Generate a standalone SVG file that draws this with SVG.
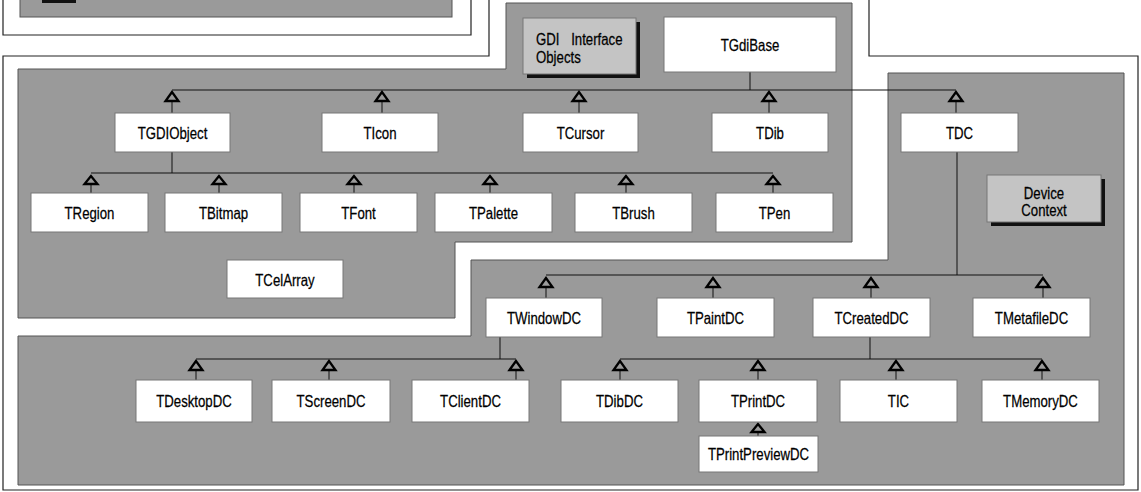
<svg xmlns="http://www.w3.org/2000/svg" width="1141" height="492" viewBox="0 0 1141 492">
<style>
.region{fill:#9a9a9a;stroke:#555;stroke-width:1}
.outline{fill:none;stroke:#222;stroke-width:1.2}
.box{fill:#fff;stroke:#777;stroke-width:1}
.label{fill:#c4c4c4;stroke:#777;stroke-width:1}
.shadow{fill:#111}
.t{font-family:"Liberation Sans",Arial,sans-serif;font-size:16.5px;fill:#000;stroke:#000;stroke-width:0.25;text-anchor:middle}
.tl{text-anchor:start}
.con line{stroke:#111;stroke-width:1;fill:none}
.tri{fill:#9a9a9a;stroke:#000;stroke-width:2.3;stroke-linejoin:miter}
</style>
<rect width="1141" height="492" fill="#fff"/>
<g id="background">
<polyline class="outline" points="3,0 3,35 471,35 471,0"/>
<polyline class="outline" points="489,0 489,56 3,56 3,490 1138,490 1138,56 869,56 869,0"/>
<rect class="region" x="20" y="-2" width="432" height="19"/>
<rect class="shadow" x="42" y="0" width="34" height="3"/>
<polygon class="region" points="506,3 852,3 852,242 455,242 455,318 18,318 18,69 506,69"/>
<polygon class="region" points="888,73 1124,73 1124,485 18,485 18,336 471,336 471,260 888,260"/>
</g>
<g id="connectors" class="con">
<line x1="172" y1="90" x2="956" y2="90"/>
<line x1="750" y1="72" x2="750" y2="90"/>
<line x1="172" y1="101" x2="172" y2="113"/>
<line x1="382" y1="101" x2="382" y2="113"/>
<line x1="579" y1="101" x2="579" y2="113"/>
<line x1="769" y1="101" x2="769" y2="113"/>
<line x1="956" y1="101" x2="956" y2="113"/>
<line x1="172" y1="152" x2="172" y2="173"/>
<line x1="91" y1="173" x2="773" y2="173"/>
<line x1="91" y1="184" x2="91" y2="193"/>
<line x1="219" y1="184" x2="219" y2="193"/>
<line x1="354" y1="184" x2="354" y2="193"/>
<line x1="490" y1="184" x2="490" y2="193"/>
<line x1="626" y1="184" x2="626" y2="193"/>
<line x1="773" y1="184" x2="773" y2="193"/>
<line x1="957" y1="152" x2="957" y2="275"/>
<line x1="546" y1="275" x2="1043" y2="275"/>
<line x1="546" y1="287" x2="546" y2="298"/>
<line x1="713" y1="287" x2="713" y2="298"/>
<line x1="871" y1="287" x2="871" y2="298"/>
<line x1="1043" y1="287" x2="1043" y2="298"/>
<line x1="500" y1="337" x2="500" y2="359"/>
<line x1="196" y1="359" x2="516" y2="359"/>
<line x1="870" y1="337" x2="870" y2="359"/>
<line x1="620" y1="359" x2="1042" y2="359"/>
<line x1="196" y1="370" x2="196" y2="380"/>
<line x1="329" y1="370" x2="329" y2="380"/>
<line x1="516" y1="370" x2="516" y2="380"/>
<line x1="620" y1="370" x2="620" y2="380"/>
<line x1="758" y1="370" x2="758" y2="380"/>
<line x1="896" y1="370" x2="896" y2="380"/>
<line x1="1042" y1="370" x2="1042" y2="380"/>
<line x1="758" y1="432" x2="758" y2="436"/>
<polygon class="tri" points="172,92 165.5,101 178.5,101"/>
<polygon class="tri" points="382,92 375.5,101 388.5,101"/>
<polygon class="tri" points="579,92 572.5,101 585.5,101"/>
<polygon class="tri" points="769,92 762.5,101 775.5,101"/>
<polygon class="tri" points="956,92 949.5,101 962.5,101"/>
<polygon class="tri" points="91,176 84.5,184 97.5,184"/>
<polygon class="tri" points="219,176 212.5,184 225.5,184"/>
<polygon class="tri" points="354,176 347.5,184 360.5,184"/>
<polygon class="tri" points="490,176 483.5,184 496.5,184"/>
<polygon class="tri" points="626,176 619.5,184 632.5,184"/>
<polygon class="tri" points="773,176 766.5,184 779.5,184"/>
<polygon class="tri" points="546,278 539.5,287 552.5,287"/>
<polygon class="tri" points="713,278 706.5,287 719.5,287"/>
<polygon class="tri" points="871,278 864.5,287 877.5,287"/>
<polygon class="tri" points="1043,278 1036.5,287 1049.5,287"/>
<polygon class="tri" points="196,361 189.5,370 202.5,370"/>
<polygon class="tri" points="329,361 322.5,370 335.5,370"/>
<polygon class="tri" points="516,361 509.5,370 522.5,370"/>
<polygon class="tri" points="620,361 613.5,370 626.5,370"/>
<polygon class="tri" points="758,361 751.5,370 764.5,370"/>
<polygon class="tri" points="896,361 889.5,370 902.5,370"/>
<polygon class="tri" points="1042,361 1035.5,370 1048.5,370"/>
<polygon class="tri" points="758,424 751.5,432 764.5,432"/>
</g>
<g id="gdi-interface-objects">
<rect class="shadow" x="527" y="22" width="113" height="56"/>
<rect class="label" x="523" y="18" width="113" height="56"/>
<text class="t tl" transform="translate(536,45) scale(0.8,1)" style="word-spacing:10px">GDI Interface</text>
<text class="t tl" transform="translate(536,63) scale(0.8,1)">Objects</text>
</g>
<g id="device-context">
<rect class="shadow" x="991" y="179" width="114" height="47"/>
<rect class="label" x="987" y="175" width="114" height="47"/>
<text class="t" transform="translate(1044,199) scale(0.8,1)">Device</text>
<text class="t" transform="translate(1044,216) scale(0.8,1)">Context</text>
</g>
<g id="tgdibase"><rect class="box" x="664" y="17" width="172" height="55"/><text class="t" transform="translate(750,51) scale(0.8,1)">TGdiBase</text></g>
<g id="tgdiobject"><rect class="box" x="115" y="113" width="115" height="39"/><text class="t" transform="translate(172.5,139) scale(0.8,1)">TGDIObject</text></g>
<g id="ticon"><rect class="box" x="322" y="113" width="116" height="39"/><text class="t" transform="translate(380,139) scale(0.8,1)">TIcon</text></g>
<g id="tcursor"><rect class="box" x="523" y="113" width="115" height="39"/><text class="t" transform="translate(580.5,139) scale(0.8,1)">TCursor</text></g>
<g id="tdib"><rect class="box" x="712" y="113" width="116" height="39"/><text class="t" transform="translate(770,139) scale(0.8,1)">TDib</text></g>
<g id="tdc"><rect class="box" x="901" y="113" width="117" height="39"/><text class="t" transform="translate(959.5,139) scale(0.8,1)">TDC</text></g>
<g id="tregion"><rect class="box" x="31" y="193" width="117" height="39"/><text class="t" transform="translate(89.5,219) scale(0.8,1)">TRegion</text></g>
<g id="tbitmap"><rect class="box" x="165" y="193" width="117" height="39"/><text class="t" transform="translate(223.5,219) scale(0.8,1)">TBitmap</text></g>
<g id="tfont"><rect class="box" x="300" y="193" width="117" height="39"/><text class="t" transform="translate(358.5,219) scale(0.8,1)">TFont</text></g>
<g id="tpalette"><rect class="box" x="435" y="193" width="117" height="39"/><text class="t" transform="translate(493.5,219) scale(0.8,1)">TPalette</text></g>
<g id="tbrush"><rect class="box" x="575" y="193" width="117" height="39"/><text class="t" transform="translate(633.5,219) scale(0.8,1)">TBrush</text></g>
<g id="tpen"><rect class="box" x="716" y="193" width="117" height="39"/><text class="t" transform="translate(774.5,219) scale(0.8,1)">TPen</text></g>
<g id="tcelarray"><rect class="box" x="227" y="260" width="116" height="38"/><text class="t" transform="translate(285,286) scale(0.8,1)">TCelArray</text></g>
<g id="twindowdc"><rect class="box" x="486" y="298" width="116" height="39"/><text class="t" transform="translate(544,324) scale(0.8,1)">TWindowDC</text></g>
<g id="tpaintdc"><rect class="box" x="657" y="298" width="117" height="39"/><text class="t" transform="translate(715.5,324) scale(0.8,1)">TPaintDC</text></g>
<g id="tcreateddc"><rect class="box" x="813" y="298" width="117" height="39"/><text class="t" transform="translate(871.5,324) scale(0.8,1)">TCreatedDC</text></g>
<g id="tmetafiledc"><rect class="box" x="973" y="298" width="117" height="39"/><text class="t" transform="translate(1031.5,324) scale(0.8,1)">TMetafileDC</text></g>
<g id="tdesktopdc"><rect class="box" x="136" y="380" width="116" height="42"/><text class="t" transform="translate(194,407) scale(0.8,1)">TDesktopDC</text></g>
<g id="tscreendc"><rect class="box" x="272" y="380" width="118" height="42"/><text class="t" transform="translate(331,407) scale(0.8,1)">TScreenDC</text></g>
<g id="tclientdc"><rect class="box" x="412" y="380" width="117" height="42"/><text class="t" transform="translate(470.5,407) scale(0.8,1)">TClientDC</text></g>
<g id="tdibdc"><rect class="box" x="561" y="380" width="117" height="42"/><text class="t" transform="translate(619.5,407) scale(0.8,1)">TDibDC</text></g>
<g id="tprintdc"><rect class="box" x="699" y="380" width="118" height="42"/><text class="t" transform="translate(758,407) scale(0.8,1)">TPrintDC</text></g>
<g id="tic"><rect class="box" x="840" y="380" width="117" height="42"/><text class="t" transform="translate(898.5,407) scale(0.8,1)">TIC</text></g>
<g id="tmemorydc"><rect class="box" x="982" y="380" width="117" height="42"/><text class="t" transform="translate(1040.5,407) scale(0.8,1)">TMemoryDC</text></g>
<g id="tprintpreviewdc"><rect class="box" x="699" y="436" width="119" height="36"/><text class="t" transform="translate(758.5,460) scale(0.8,1)">TPrintPreviewDC</text></g>
</svg>
